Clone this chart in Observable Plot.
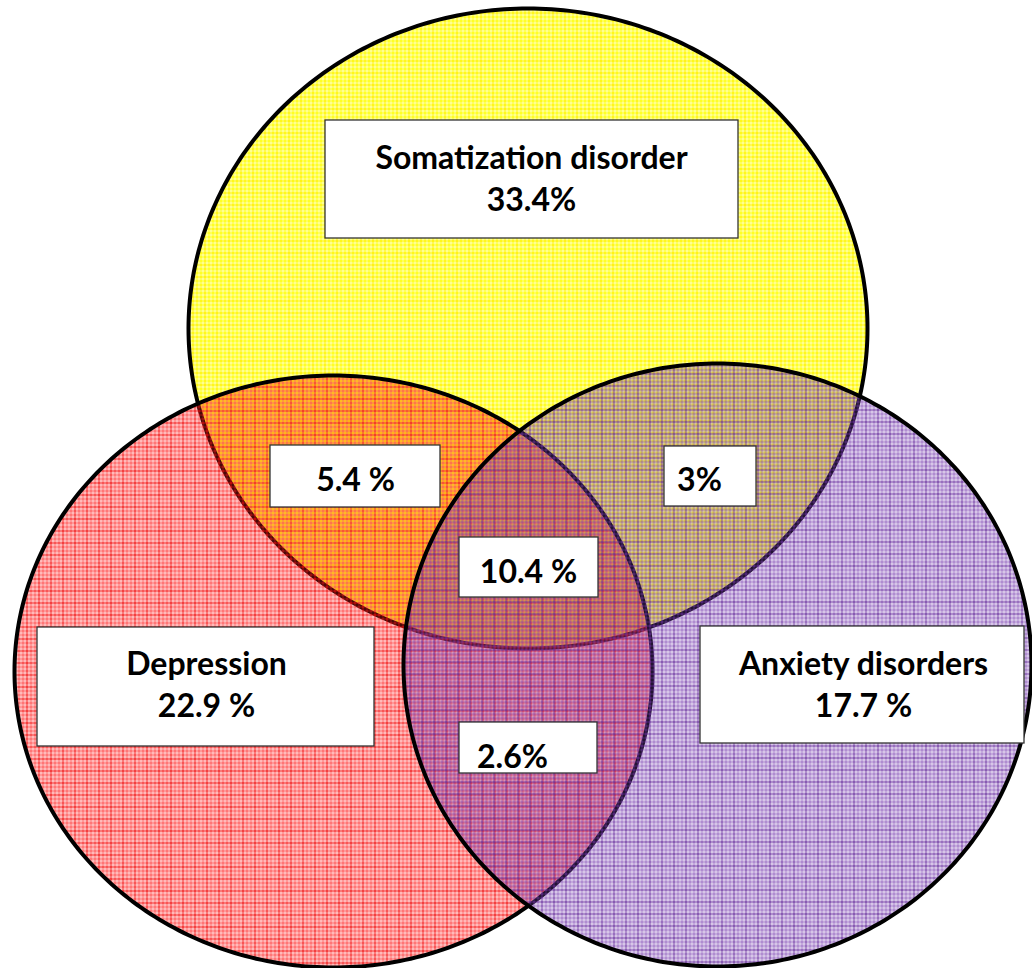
<!DOCTYPE html>
<html>
<head>
<meta charset="utf-8">
<script src="https://cdn.jsdelivr.net/npm/d3@7"></script>
<script src="https://cdn.jsdelivr.net/npm/@observablehq/plot@0.6"></script>
<style>
  html, body { margin: 0; padding: 0; background: #fff; }
  #chart svg { display: block; }
</style>
</head>
<body>
<svg width="0" height="0" style="position:absolute">
  <defs id="patdefs"></defs>
</svg>
<div id="chart"></div>
<script>
// ---- data ----
const sets = ["Somatization disorder", "Depression", "Anxiety disorders"];
const setValues = ["33.4%", "22.9 %", "17.7 %"];
const overlapLabels = ["5.4 %", "3%", "10.4 %", "2.6%"]; // S∩D, S∩A, S∩D∩A, D∩A

// ---- layout (ellipse geometry and label boxes, in pixel units) ----
const centerX = [527.5, 333, 717];
const centerY = [328, 671, 664.5];
const radiusX = [339.5, 319, 314];
const radiusY = [320, 296, 301.5];
const baseColors = ["#ffff00", "#ff1a1a", "#7a3fb0"];
const lineColors = ["#ffe600", "#e60000", "#5a2290"];
const baseOpacity = [0.85, 0.6, 0.6];
const patOffset = [0, 2, 1];

const boxX1 = [325, 37, 700, 270, 664, 459, 459];
const boxX2 = [738, 374, 1024, 440, 756, 598, 597];
const boxY1 = [120, 627, 626, 445, 446, 537, 722];
const boxY2 = [238, 746, 743, 507, 506, 597, 773];
const textX = [531, 206, 863, 355, 699, 528, 512];
const textY = [176, 682, 682, 477, 477, 569, 754];

// ---- patterns ----
const defs = document.getElementById("patdefs");
let defsHtml = "";
sets.forEach((s, i) => {
  let crosses = "";
  for (let a = 0; a < 12; a += 4) {
    for (let b = 0; b < 12; b += 4) {
      crosses += `M${a+1},${b+2}h3v1h-3zM${a+2},${b+1}h1v3h-1z`;
    }
  }
  defsHtml += `<pattern id="pat-${i}" patternUnits="userSpaceOnUse" x="${patOffset[i]}" y="${patOffset[i]}" width="12" height="12">
    <path d="M0,0h12v12h-12z${crosses}" fill="${baseColors[i]}" fill-opacity="${baseOpacity[i]}" fill-rule="evenodd"/>
    <rect x="0" y="0" width="12" height="1" fill="${lineColors[i]}" fill-opacity="0.55"/>
    <rect x="0" y="0" width="1" height="12" fill="${lineColors[i]}" fill-opacity="0.55"/>
  </pattern>`;
});
defs.innerHTML = defsHtml;

// ---- ellipse outlines derived from geometry ----
const outline = sets.flatMap((s, i) =>
  d3.range(0, 360, 1).map(t => ({
    set: s,
    x: centerX[i] + radiusX[i] * Math.cos(t * Math.PI / 180),
    y: centerY[i] + radiusY[i] * Math.sin(t * Math.PI / 180)
  }))
);

const labels = [
  sets[0] + "\n" + setValues[0],
  sets[1] + "\n" + setValues[1],
  sets[2] + "\n" + setValues[2],
  ...overlapLabels
];
const boxes = labels.map((l, i) => ({
  label: l, x1: boxX1[i], x2: boxX2[i], y1: boxY1[i], y2: boxY2[i], tx: textX[i], ty: textY[i]
}));

const W = 1032, H = 968;
const chart = Plot.plot({
  width: W,
  height: H,
  margin: 0,
  x: { domain: [0, W], axis: null },
  y: { domain: [0, H], reverse: true, axis: null },
  style: { fontFamily: "Lato, 'Open Sans', sans-serif", background: "white" },
  marks: [
    ...sets.map((s, i) =>
      Plot.line(outline.filter(d => d.set === s), {
        x: "x", y: "y", curve: "linear-closed",
        fill: `url(#pat-${i})`, stroke: "black", strokeWidth: 4
      })
    ),
    Plot.rect(boxes, {
      x1: "x1", x2: "x2", y1: "y1", y2: "y2",
      fill: "white", stroke: "#333", strokeWidth: 1.3
    }),
    Plot.text(boxes, {
      x: "tx", y: "ty", text: "label",
      fontSize: 32, fontWeight: "bold", fill: "black",
      textAnchor: "middle", lineAnchor: "middle", lineHeight: 1.3
    })
  ]
});
document.getElementById("chart").appendChild(chart);
</script>
</body>
</html>
